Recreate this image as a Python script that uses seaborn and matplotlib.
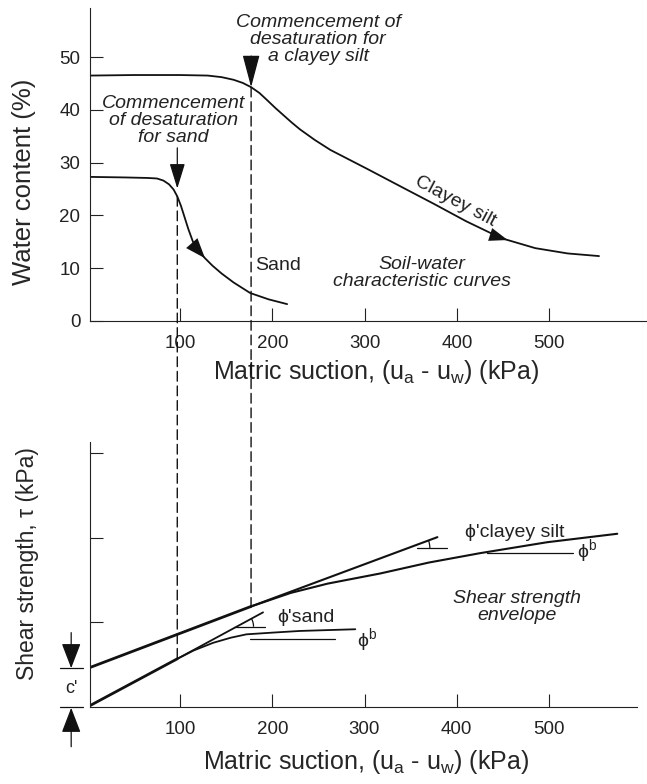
import numpy as np
import matplotlib
matplotlib.use("Agg")
import matplotlib.pyplot as plt
import seaborn as sns
from matplotlib.patches import Arc, ConnectionPatch

# ── Data ───────────────────────────────────────────────────
# soil-water characteristic curves (top panel)
suction_clay = [3, 50, 100, 130, 145, 158, 168, 177, 186, 194, 203, 212, 221, 230, 246, 263,
                283, 303, 340, 375, 410, 448, 485, 520, 554]
water_clay = [46.5, 46.6, 46.6, 46.5, 46.2, 45.7, 45.1, 44.3, 43.2, 41.9, 40.4, 39.0, 37.6, 36.3,
              34.3, 32.4, 30.6, 28.8, 25.4, 22.2, 18.9, 15.7, 13.8, 12.8, 12.3]
suction_sand = [3, 40, 65, 75, 82, 88, 93, 97, 101, 105, 109, 114, 120, 127, 135, 145, 158,
                176, 196, 216]
water_sand = [27.3, 27.2, 27.1, 27.0, 26.6, 25.9, 24.9, 23.6, 21.8, 19.6, 17.4, 15.0, 13.3,
              11.9, 10.5, 9.0, 7.3, 5.3, 4.1, 3.2]

# air-entry (commencement of desaturation) suctions
aev_sand = 97
aev_clay = 177

# shear strength envelopes (bottom panel, arbitrary tau units)
c_prime = 0.46
clay_line_x = [3, 177, 379]
clay_line_y = [0.47, 1.19, 2.01]
clay_curve_x = [177, 220, 260, 317, 370, 425, 498, 574]
clay_curve_y = [1.19, 1.35, 1.46, 1.58, 1.71, 1.82, 1.95, 2.05]
sand_line_x = [3, 97, 190]
sand_line_y = [0.02, 0.57, 1.12]
sand_curve_x = [97, 115, 136, 155, 172, 200, 230, 260, 290]
sand_curve_y = [0.57, 0.67, 0.76, 0.82, 0.86, 0.88, 0.90, 0.91, 0.92]

top_yticks = [0, 10, 20, 30, 40, 50]
xticks = [100, 200, 300, 400, 500]
bottom_yticks = [1, 2, 3]

# ── Style ──────────────────────────────────────────────────
sns.set_theme(style="ticks")
plt.rcParams["font.family"] = ["Liberation Sans", "DejaVu Sans"]
plt.rcParams.update({"axes.linewidth": 0.8, "text.color": "#222222"})

W, H = 647, 784
fig = plt.figure(figsize=(W / 100, H / 100), dpi=100)
ax1 = fig.add_axes([90 / W, 1 - 321 / H, 557 / W, 313 / H])
ax2 = fig.add_axes([90 / W, 1 - 707 / H, 547 / W, 265 / H])

for ax in (ax1, ax2):
    sns.despine(ax=ax)
    ax.set_facecolor("white")
    ax.tick_params(direction="in", length=9.5, width=0.8, colors="#222222",
                   labelsize=13.5, pad=10)
    for s in ("left", "bottom"):
        ax.spines[s].set_color("#222222")

lw_curve = 1.3
black = "#111111"

# ── Top panel ──────────────────────────────────────────────
sns.lineplot(x=suction_clay, y=water_clay, ax=ax1, color=black, lw=lw_curve, sort=False)
sns.lineplot(x=suction_sand, y=water_sand, ax=ax1, color=black, lw=lw_curve, sort=False)
ax1.set_xlim(2.4, 606)
ax1.set_ylim(0, 59.3)
ax1.set_xticks(xticks)
ax1.set_yticks(top_yticks)
ax1.tick_params(axis="y", pad=7)
ax1.set_xlabel(r"Matric suction, (u$_\mathregular{a}$ - u$_\mathregular{w}$) (kPa)", fontsize=18)
ax1.set_ylabel("Water content (%)", fontsize=18.5)
ax1.xaxis.set_label_coords(0.5135, -0.118)
ax1.yaxis.set_label_coords(-0.097, 0.444)


def curve_arrow(ax, xs, ys, x_tip, dx, hl, hw):
    tip = (x_tip, np.interp(x_tip, xs, ys))
    tail = (x_tip - dx, np.interp(x_tip - dx, xs, ys))
    ax.annotate("", xy=tip, xytext=tail,
                arrowprops=dict(arrowstyle=f"-|>,head_length={hl},head_width={hw}",
                                color=black, lw=0.01, shrinkA=0, shrinkB=0))


curve_arrow(ax1, suction_sand, water_sand, 127, 4, 1.2, 0.45)
curve_arrow(ax1, suction_clay, water_clay, 455, 8, 1.1, 0.4)

# commencement arrows
y_sand_aev = np.interp(aev_sand, suction_sand, water_sand)
y_clay_aev = np.interp(aev_clay, suction_clay, water_clay)
ax1.annotate("", xy=(aev_sand, y_sand_aev + 1.5), xytext=(aev_sand, 32.8),
             arrowprops=dict(arrowstyle="-|>,head_length=1.3,head_width=0.4",
                             color=black, lw=0.9, shrinkA=0, shrinkB=0))
ax1.annotate("", xy=(aev_clay, y_clay_aev), xytext=(aev_clay, 50.2),
             arrowprops=dict(arrowstyle="-|>,head_length=1.7,head_width=0.45",
                             color=black, lw=0.9, shrinkA=0, shrinkB=0))

ann = dict(fontsize=14, style="italic", ha="center", va="center", linespacing=1.0)
ax1.text(249.5, 53.3, "Commencement of\ndesaturation for\na clayey silt", **ann)
ax1.text(92.5, 38.0, "Commencement\nof desaturation\nfor sand", **ann)
ax1.text(362, 9.1, "Soil-water\ncharacteristic curves", **ann)
ax1.text(181, 10.6, "Sand", fontsize=14, ha="left", va="center")
ax1.text(398, 22.6, "Clayey silt", fontsize=14, ha="center", va="center",
         rotation=-28, rotation_mode="anchor")

# ── Bottom panel ───────────────────────────────────────────
sns.lineplot(x=clay_line_x[:2], y=clay_line_y[:2], ax=ax2, color=black, lw=2.0)
sns.lineplot(x=clay_line_x[1:], y=clay_line_y[1:], ax=ax2, color=black, lw=1.5)
sns.lineplot(x=clay_curve_x, y=clay_curve_y, ax=ax2, color=black, lw=1.5, sort=False)
sns.lineplot(x=sand_line_x[:2], y=sand_line_y[:2], ax=ax2, color=black, lw=2.0)
sns.lineplot(x=sand_line_x[1:], y=sand_line_y[1:], ax=ax2, color=black, lw=1.3)
sns.lineplot(x=sand_curve_x, y=sand_curve_y, ax=ax2, color=black, lw=1.3, sort=False)
ax2.set_xlim(2.4, 595.4)
ax2.set_ylim(0, 3.136)
ax2.set_xticks(xticks)
ax2.set_yticks(bottom_yticks)
ax2.set_yticklabels([])
ax2.set_xlabel(r"Matric suction, (u$_\mathregular{a}$ - u$_\mathregular{w}$) (kPa)", fontsize=18)
ax2.set_ylabel("Shear strength, τ (kPa)", fontsize=16.5)
ax2.xaxis.set_label_coords(0.5046, -0.155)
ax2.yaxis.set_label_coords(-0.093, 0.543)

# horizontal reference lines for the friction angles
thin = dict(color=black, lw=0.9)
ax2.plot([357, 389], [1.88, 1.88], **thin)
ax2.plot([433, 526], [1.82, 1.82], **thin)
ax2.plot([159, 192], [0.95, 0.95], **thin)
ax2.plot([176, 268], [0.80, 0.80], **thin)

# angle arcs (pixel radius converted to data units)
sx = 547 / (595.4 - 2.4)
sy = 265 / 3.136


def angle_arc(x0, y0, slope, r_px):
    # Arc stretches theta by width/height, so pass the angle in data units
    ang = np.degrees(np.arctan(slope))
    ax2.add_patch(Arc((x0, y0), 2 * r_px / sx, 2 * r_px / sy, theta1=0, theta2=ang,
                      color=black, lw=0.9))


clay_slope = (clay_line_y[2] - clay_line_y[1]) / (clay_line_x[2] - clay_line_x[1])
sand_slope = (sand_line_y[2] - sand_line_y[1]) / (sand_line_x[2] - sand_line_x[1])
angle_arc(clay_line_x[1] + (1.88 - clay_line_y[1]) / clay_slope, 1.88, clay_slope, 22)
angle_arc(sand_line_x[1] + (0.95 - sand_line_y[1]) / sand_slope, 0.95, sand_slope, 17)

ax2.text(409, 2.07, "ϕ'clayey silt", fontsize=14, ha="left", va="center")
ax2.text(530, 1.84, r"ϕ$^\mathregular{b}$", fontsize=14, ha="left", va="center")
ax2.text(205, 1.06, "ϕ'sand", fontsize=14, ha="left", va="center")
ax2.text(292, 0.79, r"ϕ$^\mathregular{b}$", fontsize=14, ha="left", va="center")
ax2.text(465, 1.18, "Shear strength\nenvelope", **ann)

# c' marker left of the axis
ax2.plot([-30, -5], [c_prime, c_prime], color=black, lw=0.9, clip_on=False)
ax2.plot([-30, -5], [0, 0], color=black, lw=0.9, clip_on=False)
ax2.annotate("", xy=(-18, c_prime), xytext=(-18, 0.88), annotation_clip=False,
             arrowprops=dict(arrowstyle="-|>,head_length=1.3,head_width=0.5",
                             color=black, lw=0.9, shrinkA=0, shrinkB=0))
ax2.annotate("", xy=(-18, -0.01), xytext=(-18, -0.47), annotation_clip=False,
             arrowprops=dict(arrowstyle="-|>,head_length=1.3,head_width=0.5",
                             color=black, lw=0.9, shrinkA=0, shrinkB=0))
ax2.text(-18, 0.22, "c'", fontsize=13, ha="center", va="center")

# dashed lines linking air-entry values across both panels
y_sand_env = np.interp(aev_sand, sand_line_x, sand_line_y)
y_clay_env = np.interp(aev_clay, clay_line_x, clay_line_y)
for xv, yt, yb in [(aev_sand, y_sand_aev, y_sand_env), (aev_clay, y_clay_aev, y_clay_env)]:
    con = ConnectionPatch(xyA=(xv, yt), coordsA=ax1.transData,
                          xyB=(xv, yb), coordsB=ax2.transData,
                          color=black, lw=1.0, linestyle=(0, (7, 3.5)))
    fig.add_artist(con)

plt.savefig("out.png", dpi=100, facecolor="white")
plt.close()
